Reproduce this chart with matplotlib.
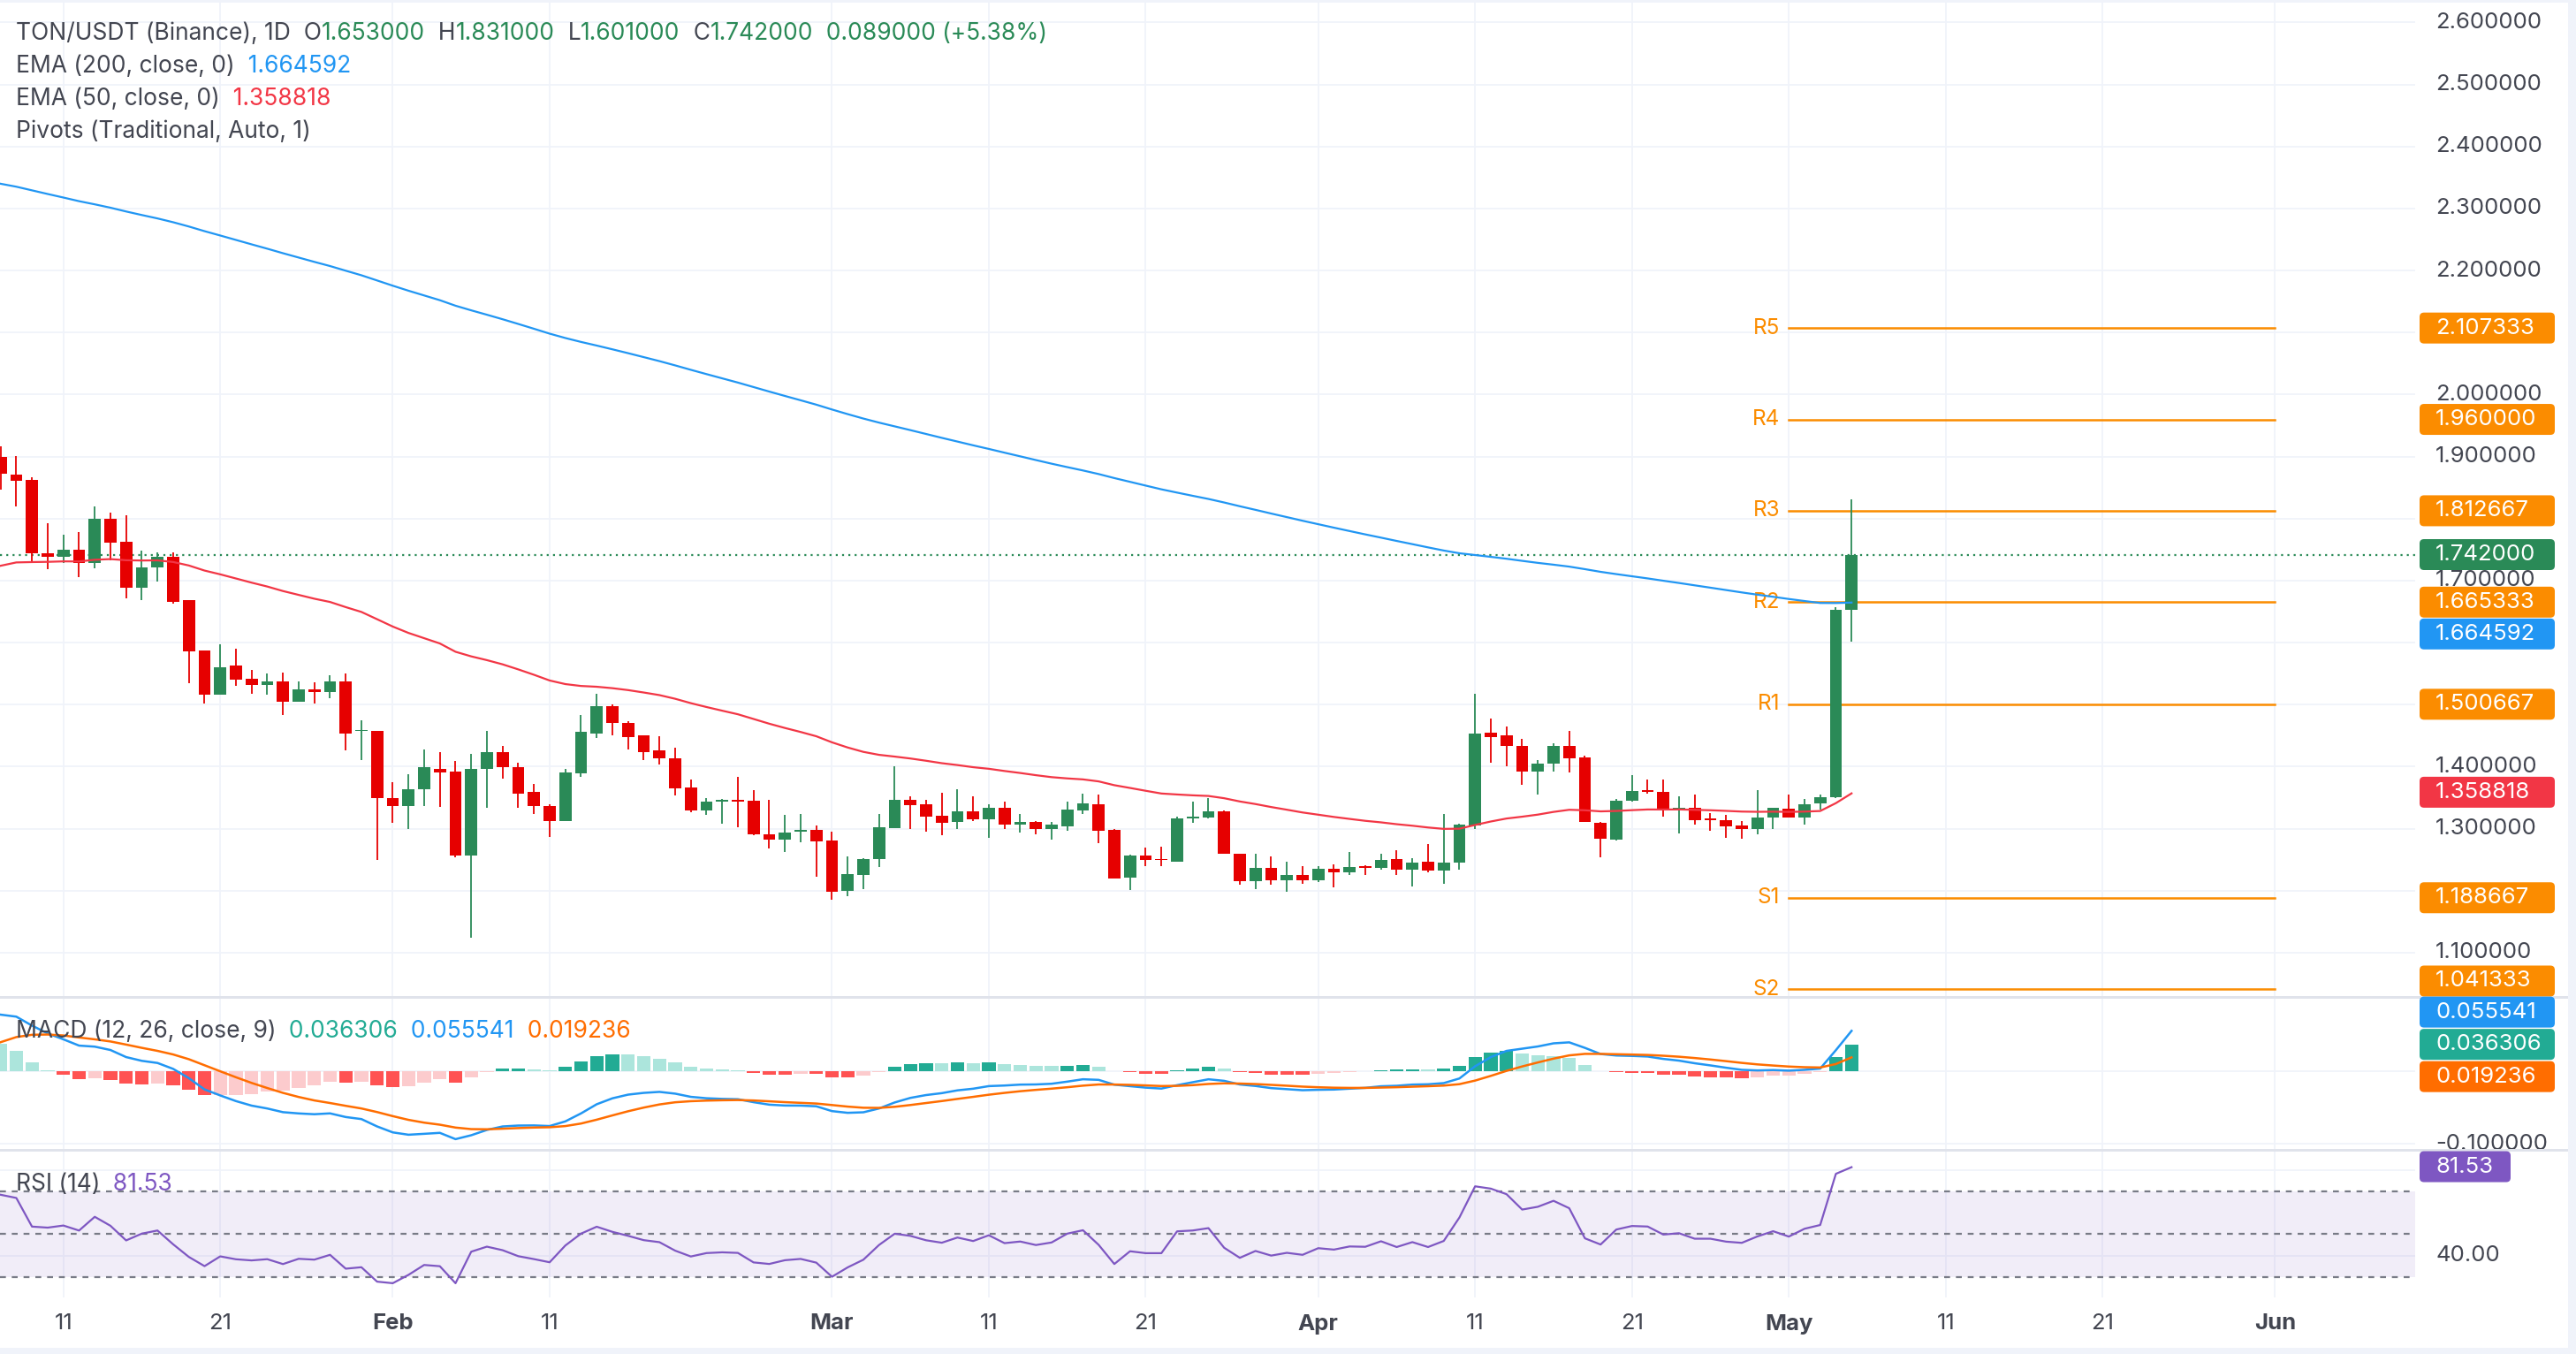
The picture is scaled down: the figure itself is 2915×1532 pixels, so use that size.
import numpy as np
import pandas as pd
import matplotlib
matplotlib.use("Agg")
import matplotlib.pyplot as plt
import matplotlib.dates as mdates
from matplotlib.patches import FancyBboxPatch, Rectangle
from matplotlib.transforms import IdentityTransform, blended_transform_factory

# TON/USDT daily candles
dates = pd.date_range("2026-01-07", "2026-05-05", freq="D")
opens = [1.900, 1.871, 1.863, 1.744, 1.739, 1.750, 1.728, 1.800, 1.762, 1.688,
         1.721, 1.738, 1.668, 1.587, 1.516, 1.563, 1.542, 1.532, 1.537, 1.505,
         1.525, 1.521, 1.537, 1.457, 1.458, 1.350, 1.336, 1.364, 1.396, 1.392,
         1.257, 1.396, 1.424, 1.399, 1.360, 1.337, 1.313, 1.389, 1.454, 1.498,
         1.471, 1.450, 1.426, 1.413, 1.367, 1.329, 1.343, 1.346, 1.345, 1.291,
         1.282, 1.295, 1.298, 1.281, 1.200, 1.226, 1.251, 1.301, 1.347, 1.340,
         1.321, 1.311, 1.328, 1.315, 1.334, 1.307, 1.311, 1.299, 1.304, 1.330,
         1.340, 1.298, 1.221, 1.257, 1.251, 1.247, 1.316, 1.318, 1.328, 1.259,
         1.216, 1.237, 1.217, 1.225, 1.217, 1.235, 1.230, 1.239, 1.237, 1.251,
         1.234, 1.247, 1.232, 1.245, 1.305, 1.455, 1.450, 1.434, 1.392, 1.405,
         1.434, 1.415, 1.310, 1.282, 1.345, 1.362, 1.360, 1.331, 1.333, 1.317,
         1.314, 1.305, 1.300, 1.318, 1.332, 1.318, 1.341, 1.351, 1.653]
highs = [1.916, 1.901, 1.866, 1.792, 1.774, 1.779, 1.819, 1.810, 1.805, 1.749,
         1.745, 1.746, 1.668, 1.588, 1.597, 1.590, 1.556, 1.550, 1.552, 1.537,
         1.536, 1.547, 1.550, 1.475, 1.458, 1.375, 1.388, 1.428, 1.423, 1.409,
         1.420, 1.458, 1.434, 1.406, 1.372, 1.340, 1.396, 1.483, 1.518, 1.501,
         1.474, 1.450, 1.449, 1.430, 1.380, 1.349, 1.348, 1.384, 1.362, 1.346,
         1.322, 1.324, 1.305, 1.295, 1.256, 1.252, 1.323, 1.400, 1.352, 1.347,
         1.358, 1.364, 1.352, 1.340, 1.344, 1.324, 1.312, 1.311, 1.344, 1.357,
         1.355, 1.300, 1.258, 1.270, 1.271, 1.320, 1.344, 1.350, 1.330, 1.260,
         1.259, 1.255, 1.247, 1.239, 1.239, 1.242, 1.262, 1.241, 1.260, 1.265,
         1.252, 1.275, 1.323, 1.308, 1.518, 1.478, 1.465, 1.445, 1.411, 1.438,
         1.457, 1.418, 1.311, 1.348, 1.387, 1.380, 1.379, 1.352, 1.355, 1.325,
         1.322, 1.313, 1.362, 1.333, 1.355, 1.348, 1.355, 1.657, 1.831]
lows = [1.847, 1.819, 1.728, 1.718, 1.728, 1.705, 1.720, 1.733, 1.671, 1.668,
        1.698, 1.663, 1.534, 1.502, 1.516, 1.530, 1.517, 1.516, 1.484, 1.505,
        1.502, 1.510, 1.426, 1.410, 1.249, 1.309, 1.299, 1.337, 1.335, 1.254,
        1.124, 1.333, 1.381, 1.334, 1.324, 1.287, 1.313, 1.384, 1.446, 1.450,
        1.428, 1.410, 1.403, 1.354, 1.326, 1.322, 1.308, 1.303, 1.289, 1.268,
        1.262, 1.278, 1.223, 1.186, 1.191, 1.203, 1.238, 1.301, 1.300, 1.295,
        1.290, 1.300, 1.312, 1.285, 1.299, 1.294, 1.291, 1.283, 1.296, 1.323,
        1.277, 1.220, 1.201, 1.240, 1.240, 1.247, 1.310, 1.316, 1.260, 1.209,
        1.203, 1.209, 1.199, 1.211, 1.214, 1.206, 1.226, 1.226, 1.234, 1.226,
        1.207, 1.230, 1.211, 1.234, 1.299, 1.407, 1.401, 1.371, 1.355, 1.392,
        1.390, 1.311, 1.254, 1.281, 1.343, 1.356, 1.319, 1.293, 1.307, 1.297,
        1.285, 1.284, 1.291, 1.299, 1.318, 1.306, 1.331, 1.350, 1.601]
closes = [1.872, 1.861, 1.744, 1.739, 1.750, 1.728, 1.800, 1.761, 1.688, 1.722,
          1.738, 1.666, 1.586, 1.516, 1.561, 1.540, 1.532, 1.537, 1.505, 1.525,
          1.520, 1.537, 1.454, 1.459, 1.350, 1.336, 1.364, 1.399, 1.391, 1.257,
          1.396, 1.423, 1.399, 1.357, 1.336, 1.313, 1.391, 1.456, 1.498, 1.470,
          1.448, 1.424, 1.413, 1.365, 1.329, 1.343, 1.346, 1.343, 1.291, 1.282,
          1.294, 1.298, 1.280, 1.199, 1.227, 1.251, 1.302, 1.347, 1.338, 1.320,
          1.310, 1.328, 1.315, 1.334, 1.306, 1.311, 1.299, 1.306, 1.331, 1.341,
          1.297, 1.220, 1.257, 1.249, 1.249, 1.317, 1.320, 1.328, 1.260, 1.216,
          1.237, 1.217, 1.225, 1.217, 1.235, 1.230, 1.238, 1.237, 1.250, 1.234,
          1.245, 1.232, 1.245, 1.307, 1.454, 1.448, 1.434, 1.392, 1.405, 1.434,
          1.414, 1.311, 1.284, 1.345, 1.361, 1.359, 1.329, 1.334, 1.314, 1.314,
          1.304, 1.300, 1.318, 1.333, 1.318, 1.340, 1.351, 1.653, 1.742]

# indicator states on the first visible bar
EMA200_START = 2.340
EMA50_START = 1.724
EMA12_START = 1.823
EMA26_START = 1.745
SIGNAL_START = 0.040
RSI_GAIN_START = 0.026
RSI_LOSS_START = 0.012

# monthly pivots (May)
pivot_names = ["R5", "R4", "R3", "R2", "R1", "S1", "S2"]
pivot_values = [2.107333, 1.960000, 1.812667, 1.665333, 1.500667, 1.188667, 1.041333]
pivot_start, pivot_end = "2026-05-01", "2026-06-01"

price_ticks = [1.1, 1.2, 1.3, 1.4, 1.5, 1.6, 1.7, 1.8, 1.9, 2.0, 2.1, 2.2, 2.3, 2.4, 2.5, 2.6]
tick_dates = ["2026-01-11", "2026-01-21", "2026-02-01", "2026-02-11", "2026-03-01",
              "2026-03-11", "2026-03-21", "2026-04-01", "2026-04-11", "2026-04-21",
              "2026-05-01", "2026-05-11", "2026-05-21", "2026-06-01"]
tick_labels = ["11", "21", "Feb", "11", "Mar", "11", "21", "Apr", "11", "21", "May", "11", "21", "Jun"]

last_price = 1.742
ema200_last, ema50_last = 1.664592, 1.358818
macd_last, hist_last, signal_last = 0.055541, 0.036306, 0.019236
rsi_last = 81.53

# colours
GREEN = "#2A8A57"
RED = "#E60000"
BLUE = "#2196F3"
EMA_RED = "#F23645"
ORANGE = "#FB8C00"
MACD_ORANGE = "#FF6D00"
TEAL = "#22AB94"
PURPLE = "#7E57C2"
GRID = "#F0F3FA"
TXT = "#434651"
AXTXT = "#434651"
FONT = ["Inter", "DejaVu Sans"]
LEG_SIZE = 19.0
AX_SIZE = 18.5


def ema(values, start, span):
    a = 2.0 / (span + 1)
    out = [start]
    for v in values[1:]:
        out.append(out[-1] + a * (v - out[-1]))
    return np.array(out)


ema200 = ema(closes, EMA200_START, 200)
ema50 = ema(closes, EMA50_START, 50)
macd = ema(closes, EMA12_START, 12) - ema(closes, EMA26_START, 26)
signal = ema(macd, SIGNAL_START, 9)
hist = macd - signal

gain, loss = RSI_GAIN_START, RSI_LOSS_START
rsi = [100 * gain / (gain + loss)]
for i in range(1, len(closes)):
    ch = closes[i] - closes[i - 1]
    gain = (gain * 13 + max(ch, 0)) / 14
    loss = (loss * 13 + max(-ch, 0)) / 14
    rsi.append(100 * gain / (gain + loss))
rsi = np.array(rsi)

W, H = 2915, 1532
fig = plt.figure(figsize=(W / 100, H / 100), dpi=100)
fig.patch.set_facecolor("white")
PLOT_W = 2733

# panes (pixel rows from the top)
ax = fig.add_axes([0, 1 - 1128 / H, PLOT_W / W, 1128 / H])
axm = fig.add_axes([0, 1 - 1300 / H, PLOT_W / W, 170 / H], sharex=ax)
axr = fig.add_axes([0, 1 - 1468 / H, PLOT_W / W, 165 / H], sharex=ax)
for a in (ax, axm, axr):
    a.set_axis_off()

xs = mdates.date2num(dates)
x0 = mdates.date2num(pd.Timestamp("2026-01-01")) + 5.96
x1 = mdates.date2num(pd.Timestamp("2026-01-01")) + 159.93
ax.set_xlim(x0, x1)
ax.set_ylim(1.0287, 2.6363)
axm.set_ylim(-0.1073, 0.1)
axr.set_ylim(20.5, 88.56)

tick_x = mdates.date2num(pd.to_datetime(tick_dates))
for a in (ax, axm, axr):
    for t in tick_x:
        a.axvline(t, color=GRID, lw=1.3, zorder=0)
for p in price_ticks:
    ax.axhline(p, color=GRID, lw=1.3, zorder=0)
for v in (0.0, -0.1):
    axm.axhline(v, color=GRID, lw=1.3, zorder=0)
for v in (40, 80):
    axr.axhline(v, color=GRID, lw=1.3, zorder=0)

# price pane
o, h, l, c = map(np.array, (opens, highs, lows, closes))
col = np.where(c >= o, GREEN, RED)
ax.axhline(last_price, color=GREEN, lw=1.6, ls=(0, (1, 2.2)), zorder=1)
pv_x0 = mdates.date2num(pd.Timestamp(pivot_start))
pv_x1 = mdates.date2num(pd.Timestamp(pivot_end))
for name, val in zip(pivot_names, pivot_values):
    ax.plot([pv_x0, pv_x1], [val, val], color=ORANGE, lw=1.8, zorder=2)
    ax.annotate(name, xy=(pv_x0, val), xytext=(-10, 0), textcoords="offset pixels",
                ha="right", va="center", color=ORANGE, fontsize=17.5, family=FONT,
                clip_on=True, annotation_clip=False)
ax.vlines(xs, l, h, colors=col, lw=1.3, zorder=3)
ax.bar(xs, np.maximum(np.abs(c - o), 0.0025), bottom=np.minimum(o, c), width=0.78,
       color=col, linewidth=0, zorder=4)
ax.plot(xs, ema200, color=BLUE, lw=1.6, zorder=5)
ax.plot(xs, ema50, color=EMA_RED, lw=1.6, zorder=5)

# MACD pane
hcol = []
for i, hv in enumerate(hist):
    prev = hist[i - 1] if i > 0 else hv
    if hv >= 0:
        hcol.append(TEAL if hv > prev else "#ACE5DC")
    else:
        hcol.append("#FF5252" if hv < prev else "#FCCBCD")
axm.bar(xs, hist, width=0.85, color=hcol, linewidth=0, zorder=2)
axm.plot(xs, macd, color=BLUE, lw=1.8, zorder=3)
axm.plot(xs, signal, color=MACD_ORANGE, lw=1.8, zorder=3)

# RSI pane
axr.axhspan(30, 70, color=PURPLE, alpha=0.1, lw=0, zorder=0)
for v in (70, 50, 30):
    axr.axhline(v, color="#787B86", lw=1.6, ls=(0, (3, 3)), zorder=1)
axr.plot(xs, rsi, color=PURPLE, lw=1.6, zorder=3)


def ypix(pane, v):
    return H - pane.transData.transform((xs[0], v))[1]


def box(yc, text, color, width=153):
    fig.add_artist(FancyBboxPatch((2738, H - yc - 17.5), width, 35,
                                  boxstyle="round,pad=0,rounding_size=5",
                                  transform=IdentityTransform(), facecolor=color,
                                  edgecolor="none", zorder=10))
    fig.text(2756, H - yc, text, transform=IdentityTransform(), ha="left", va="center",
             fontsize=AX_SIZE, family=FONT, color="white", zorder=11)


# value labels on the right scale
main_labels = [(v, f"{v:.6f}", ORANGE) for v in pivot_values]
main_labels += [(last_price, f"{last_price:.6f}", GREEN), (ema200_last, f"{ema200_last:.6f}", BLUE),
                (ema50_last, f"{ema50_last:.6f}", EMA_RED)]
main_labels.sort(key=lambda t: -t[0])
ys = []
for v, _, _ in main_labels:
    y = ypix(ax, v)
    if ys:
        y = max(y, ys[-1] + 36)
    ys.append(y)
ys[-1] = min(ys[-1], 1128 - 18)
for (v, s, cc), y in zip(main_labels, ys):
    box(y, s, cc)

macd_labels = [(macd_last, BLUE), (hist_last, TEAL), (signal_last, MACD_ORANGE)]
mid = np.mean([ypix(axm, v) for v, _ in macd_labels])
macd_ys = [mid + (k - 1) * 36.5 for k in range(3)]
for (v, cc), y in zip(macd_labels, macd_ys):
    box(y, f"{v:.6f}", cc)
rsi_y = ypix(axr, rsi_last)
box(rsi_y, f"{rsi_last:.2f}", PURPLE, width=103)


# right price scale ticks (the ones fully under a value label are hidden, as on the chart)
def scale_axes(pane):
    b = pane.get_position()
    sa = fig.add_axes([PLOT_W / W, b.y0, (2905 - PLOT_W) / W, b.height], sharey=pane)
    sa.set_axis_off()
    return sa


TX = (2756 - PLOT_W) / (2905 - PLOT_W)


def scale_ticks(pane, values, fmt, taken):
    sa = scale_axes(pane)
    tr = blended_transform_factory(sa.transAxes, sa.transData)
    for v in values:
        if any(abs(ypix(pane, v) - y) < 17 for y in taken):
            continue
        sa.text(TX, v, fmt.format(v), transform=tr, ha="left", va="center",
                fontsize=AX_SIZE, family=FONT, color=AXTXT, clip_on=True)


scale_ticks(ax, price_ticks, "{:.6f}", ys)
scale_ticks(axm, [-0.1], "{:.6f}", macd_ys)
scale_ticks(axr, [40, 80], "{:.2f}", [rsi_y])

# date axis
for t, lab in zip(tick_x, tick_labels):
    xp = ax.transData.transform((t, 2.0))[0]
    fig.text(xp, H - 1498, lab, transform=IdentityTransform(), ha="center", va="center",
             fontsize=AX_SIZE, family=FONT, color=AXTXT,
             fontweight="bold" if not lab.isdigit() else "normal")

# legends
renderer = fig.canvas.get_renderer()


def legend(x, y, parts, size=LEG_SIZE):
    for s, cc in parts:
        t = fig.text(x, H - y, s, transform=IdentityTransform(), ha="left", va="center",
                     fontsize=size, family=FONT, color=cc, zorder=12)
        x += t.get_window_extent(renderer).width


legend(18, 38, [("TON/USDT (Binance), 1D", TXT), ("  O", TXT), ("1.653000", GREEN),
                ("  H", TXT), ("1.831000", GREEN), ("  L", TXT), ("1.601000", GREEN),
                ("  C", TXT), ("1.742000", GREEN), ("  0.089000 (+5.38%)", GREEN)])
legend(18, 75, [("EMA (200, close, 0)", TXT), ("  1.664592", BLUE)])
legend(18, 112, [("EMA (50, close, 0)", TXT), ("  1.358818", EMA_RED)])
legend(18, 149, [("Pivots (Traditional, Auto, 1)", TXT)])
legend(18, 1167, [("MACD (12, 26, close, 9)", TXT), ("  0.036306", TEAL),
                  ("  0.055541", BLUE), ("  0.019236", MACD_ORANGE)])
legend(18, 1340, [("RSI (14)", TXT), ("  81.53", PURPLE)])

# pane separators and frame
for y0, hh, cc in [(1127, 3, "#E0E3EB"), (1300, 3, "#E0E3EB"), (0, 3, GRID), (1525, 7, GRID)]:
    fig.add_artist(Rectangle((0, H - y0 - hh), W, hh, transform=IdentityTransform(),
                             facecolor=cc, edgecolor="none", zorder=9))
fig.add_artist(Rectangle((2906, 0), 9, H, transform=IdentityTransform(),
                         facecolor=GRID, edgecolor="none", zorder=9))

fig.savefig("out.png", dpi=100, facecolor="white")
